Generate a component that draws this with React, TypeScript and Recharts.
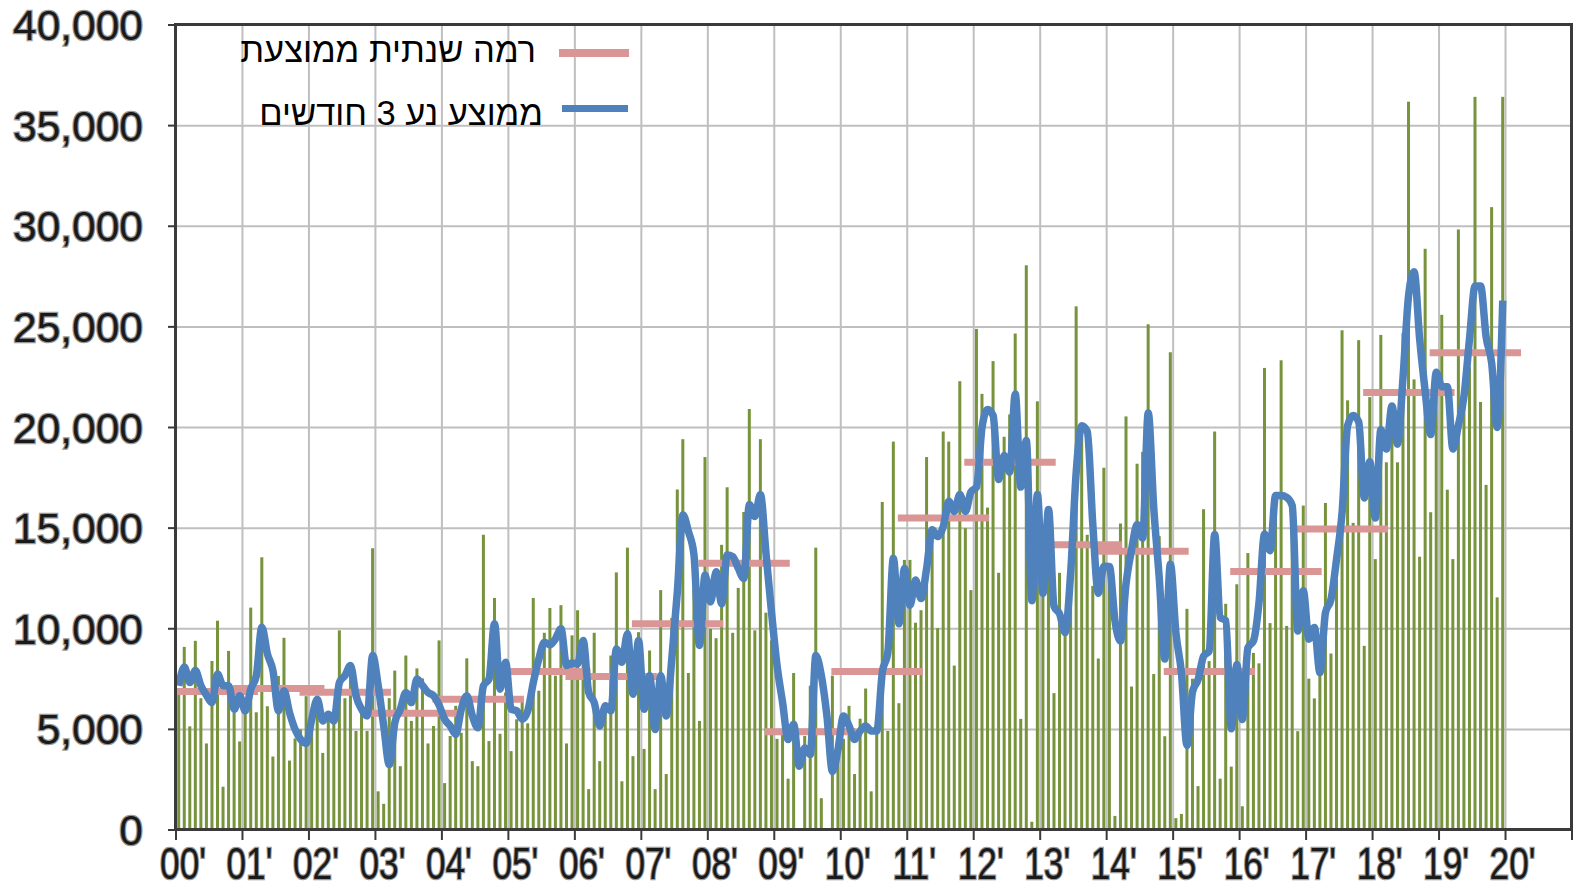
import React from 'react';
import { ComposedChart, Bar, Line, XAxis, YAxis, CartesianGrid } from 'recharts';

// 00' .. 20' on the axis, one row of 12 months per year 2000-2019
const yearLabels = ['00', '01', '02', '03', '04', '05', '06', '07', '08', '09', '10',
  '11', '12', '13', '14', '15', '16', '17', '18', '19', '20'];

const monthlyByYear: number[][] = [
  [7000, 9100, 5150, 9400, 6550, 4300, 8400, 10400, 2150, 8900, 5850, 4400],
  [5800, 11050, 5850, 13550, 6150, 3650, 7650, 9550, 3450, 4550, 5000, 6650],
  [5170, 6500, 3830, 5830, 5500, 9920, 6550, 7800, 4920, 5800, 4920, 14000],
  [1920, 1300, 6550, 7920, 3170, 8670, 5420, 8030, 7530, 4300, 5170, 9420],
  [2330, 4670, 6170, 4830, 8530, 3420, 3170, 14670, 4420, 11530, 4780, 6830],
  [3920, 5500, 6500, 5300, 11530, 6920, 9800, 11030, 7670, 11170, 4300, 9670],
  [10920, 8500, 2030, 9800, 3420, 6330, 8670, 12800, 2420, 14030, 3670, 9830],
  [4030, 8920, 2030, 11920, 2780, 10530, 16920, 19420, 7800, 12000, 5420, 18530],
  [10000, 9530, 14170, 17030, 9800, 12030, 15800, 20920, 9920, 19420, 10800, 9420],
  [4530, 4800, 2550, 7800, -400, 4670, 7170, 14030, 1580, -400, 7670, 4000],
  [4530, 6170, 2780, 5530, 7030, 1920, 5000, 16300, 4920, 19300, 6300, 13420],
  [13420, 10300, 10920, 18530, 15000, 10030, 19800, 19300, 8170, 22300, 15000, 11920],
  [24900, 21670, 16020, 23300, 12780, 19540, 20650, 24670, 5520, 28060, 410, 21300],
  [12200, 16000, 6800, 12780, 10400, 12200, 26020, 20200, 14670, 12130, 8520, 18000],
  [12900, 700, 15230, 20550, 7130, 18200, 18790, 25130, 7750, 14600, 4660, 23740],
  [590, 800, 10990, 7520, 2180, 15940, 8390, 19800, 2550, 11240, 3150, 12210],
  [1180, 13760, 8800, 8280, 22960, 10280, 16120, 23340, 10140, 15450, 4910, 16120],
  [7520, 6540, 7650, 16250, 8770, 12470, 24830, 21350, 15260, 24340, 9150, 21510],
  [13460, 24600, 18270, 19650, 18270, 24700, 36190, 22390, 13580, 28880, 15790, 22500],
  [25600, 16910, 13460, 29840, 21800, 23000, 36430, 21270, 17150, 30950, 11560, 36430],
];

const movingAvgByYear: number[][] = [
  [7170, 8100, 7330, 7920, 7170, 6700, 6330, 7750, 7170, 7170, 6000, 6670],
  [5920, 7000, 7670, 10080, 8750, 7920, 5920, 6920, 5830, 5000, 4500, 4300],
  [5500, 6500, 5420, 5750, 5420, 7330, 7670, 8170, 6670, 6000, 5670, 8670],
  [7170, 5170, 3250, 5330, 6000, 6830, 6330, 7500, 7170, 6830, 6670, 6200],
  [5500, 5170, 4750, 6000, 6670, 5670, 5080, 7170, 7500, 10250, 7000, 8330],
  [6000, 5920, 5500, 5920, 7330, 8500, 9330, 9200, 9500, 10000, 8170, 8300],
  [8250, 9420, 6830, 6330, 5170, 6170, 5920, 9000, 8330, 9750, 6750, 9420],
  [6000, 7670, 5000, 7670, 5670, 8500, 11830, 15670, 14830, 13670, 9170, 12670],
  [11330, 12830, 11250, 13670, 13580, 13000, 12500, 16170, 15580, 16670, 13750, 10830],
  [8170, 6330, 4500, 5250, 3170, 4080, 3750, 8670, 7670, 5670, 2900, 4000],
  [5670, 5170, 4500, 4920, 5170, 4920, 4920, 7830, 8830, 13500, 10250, 13000],
  [11170, 12420, 11500, 13000, 14920, 14580, 15080, 16330, 15830, 16670, 15830, 16800],
  [17040, 20000, 20900, 20600, 17410, 18610, 17780, 21670, 17040, 19350, 11390, 16670],
  [11760, 15930, 11110, 10740, 9810, 12780, 17780, 20090, 19810, 15180, 11760, 13100],
  [13090, 10400, 9390, 12250, 13930, 15180, 14510, 20720, 16000, 12500, 8500, 13200],
  [9800, 7800, 4200, 6880, 7470, 8640, 8890, 14680, 10570, 10400, 5030, 8220],
  [5490, 9060, 9400, 11300, 14710, 13880, 16620, 16620, 16530, 16120, 9890, 11890],
  [9480, 10060, 7820, 10810, 11470, 13460, 15790, 20100, 20600, 20270, 16500, 18300],
  [15500, 19890, 18930, 21070, 19170, 22500, 26550, 27740, 24400, 21790, 19650, 22740],
  [22030, 22030, 18930, 20120, 21550, 24400, 27030, 27030, 24500, 23200, 20000, 26300],
];

const annualLevel = [6880, 7030, 6850, 5800, 6500, 7870, 7630, 10250, 13250, 4880,
  7870, 15500, 18270, 14170, 13850, 7870, 12850, 14960, 21740, 23720];

const yTicks = [0, 5000, 10000, 15000, 20000, 25000, 30000, 35000, 40000];

const levelName = 'רמה שנתית ממוצעת';
const avgName = 'ממוצע נע 3 חודשים';

const FONT = '"Liberation Sans", Arial, sans-serif';
const BAR = '#77933C';
const BLUE = '#4F81BD';
const PINK = '#D99694';

const rows = monthlyByYear.flatMap((months, yi) =>
  months.map((v, mi) => ({ x: yi * 12 + mi + 0.5, value: v, avg: movingAvgByYear[yi][mi] }))
);

// each yearly level is drawn as a short bar a bit wider than its year
const levelSegments = annualLevel.map((lvl, yi) => [
  { x: yi * 12 - 1.7, level: lvl },
  { x: yi * 12 + 14.8, level: lvl },
]);

const xTicks = yearLabels.map((_, i) => i * 12).concat([252]);

// thin solid column centred on the month, whatever width recharts hands us
const MonthBar = (props: any) => {
  const { x, y, width, height } = props;
  if (!height) return null;
  const w = 3;
  const top = height < 0 ? y + height : y;
  return <rect x={x + width / 2 - w / 2} y={top} width={w} height={Math.abs(height)} fill={BAR} />;
};

const YTick = ({ x, y, payload }: any) => (
  <text x={x} y={y} dy={15} textAnchor="end" fontSize={42.5} fontFamily={FONT}
    fill="#1a1a1a" stroke="#999" strokeWidth={2.5} paintOrder="stroke">
    {payload.value.toLocaleString('en-US')}
  </text>
);

const XTick = ({ x, y, payload }: any) => {
  const idx = Math.round(payload.value / 12);
  if (idx >= yearLabels.length) return null;
  return (
    <text transform={`translate(${x + 7},${y + 39}) scale(0.8,1)`} textAnchor="middle"
      fontSize={44} fontFamily={FONT} fill="#1a1a1a" stroke="#999" strokeWidth={2.5}
      paintOrder="stroke">
      {`${yearLabels[idx]}'`}
    </text>
  );
};

const legendText: React.CSSProperties = {
  position: 'absolute',
  fontFamily: FONT,
  fontSize: 34.5,
  lineHeight: '35px',
  color: '#000',
  direction: 'rtl',
  whiteSpace: 'nowrap',
};

export default function App() {
  return (
    <div style={{ position: 'absolute', left: 0, top: 0, width: 1575, height: 889, background: '#fff' }}>
      <ComposedChart width={1575} height={889} data={rows}
        margin={{ top: 25, right: 3, bottom: 0, left: 0 }}>
        <CartesianGrid stroke="#BFBFBF" strokeWidth={2} />
        <XAxis dataKey="x" type="number" domain={[0, 252]} allowDataOverflow ticks={xTicks}
          interval={0} height={59} tickSize={10} tickMargin={0} axisLine={false}
          tickLine={{ stroke: '#3a3a3a', strokeWidth: 2 }} tick={<XTick />} />
        <YAxis type="number" domain={[0, 40000]} allowDataOverflow ticks={yTicks} width={176}
          tickSize={8} tickMargin={25} axisLine={false}
          tickLine={{ stroke: '#3a3a3a', strokeWidth: 2 }} tick={<YTick />} />
        <Bar dataKey="value" fill={BAR} barSize={3} shape={<MonthBar />} isAnimationActive={false} />
        {levelSegments.map((seg, i) => (
          <Line key={i} data={seg} dataKey="level" type="linear" stroke={PINK} strokeWidth={7}
            dot={false} activeDot={false} isAnimationActive={false} />
        ))}
        <Line dataKey="avg" type="monotone" stroke={BLUE} strokeWidth={7.5} dot={false}
          activeDot={false} isAnimationActive={false} />
      </ComposedChart>

      <div style={{ position: 'absolute', left: 174, top: 23, width: 1399, height: 808,
        boxSizing: 'border-box', border: '3px solid #3a3a3a', pointerEvents: 'none' }} />

      <div style={{ position: 'absolute', left: 559, top: 49, width: 70, height: 8, background: PINK }} />
      <div style={{ ...legendText, right: 1575 - 536, top: 33 }}>{levelName}</div>
      <div style={{ position: 'absolute', left: 562, top: 105, width: 66, height: 7, background: BLUE }} />
      <div style={{ ...legendText, right: 1575 - 543, top: 96 }}>{avgName}</div>
    </div>
  );
}
